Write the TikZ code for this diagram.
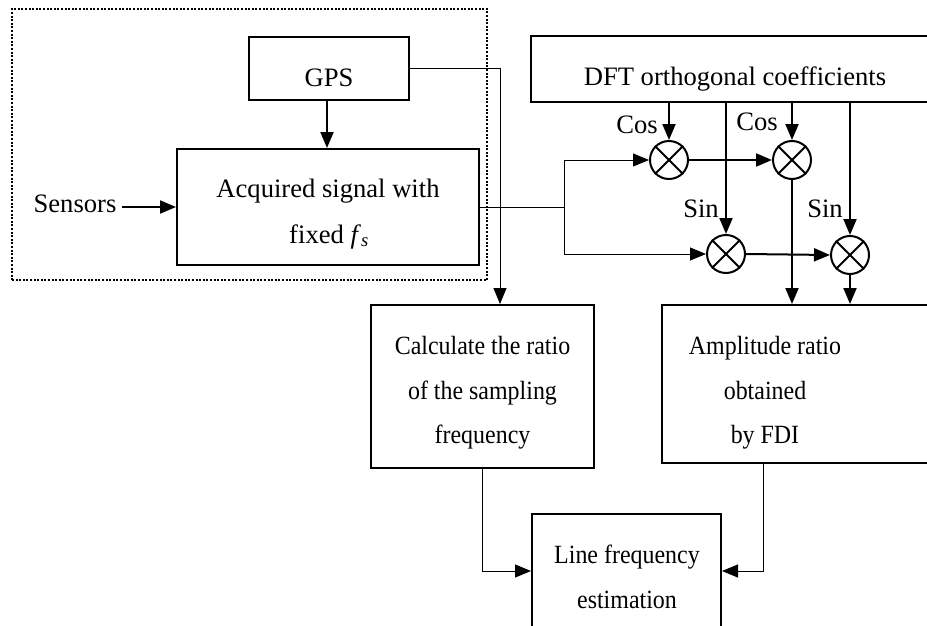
\documentclass[tikz,border=0pt]{standalone}
\usepackage{fontspec}
\setmainfont{Liberation Serif}
\newfontfamily\condfont[FakeStretch=0.91]{Liberation Serif}
\usetikzlibrary{arrows.meta}
\begin{document}
\begin{tikzpicture}[x=1pt,y=-1pt,
  box/.style={draw, line width=2pt, rectangle, inner sep=0pt},
  grpbox/.style={draw, line width=2pt, dash pattern=on 2pt off 1.6pt, rectangle, inner sep=0pt},
  txt/.style={anchor=base, inner sep=0pt, font=\fontsize{26.6}{30}\selectfont},
  ltxt/.style={anchor=base, inner sep=0pt, font=\condfont\fontsize{26.3}{30}\selectfont},
  mult/.style={circle, draw, line width=2pt, minimum size=38pt, inner sep=0pt},
  tip/.style={-{Triangle[length=16pt,width=13pt]}},
  thinc/.style={line width=1pt},
  thkc/.style={line width=2pt}
]
\useasboundingbox (0,0) rectangle (927,626);
\clip (0,0) rectangle (927,626);

% group box
\node[grpbox, minimum width=475pt, minimum height=271pt] (grp) at (249.5,144.5) {};

% boxes
\node[box, minimum width=160pt, minimum height=63pt] (gps) at (329,68.5) {};
\node[box, minimum width=302pt, minimum height=116pt] (acq) at (328,207) {};
\node[box, minimum width=409pt, minimum height=66pt] (dft) at (735.5,69) {};
\node[box, minimum width=223pt, minimum height=163pt] (calc) at (482.5,386.5) {};
\node[box, minimum width=278pt, minimum height=158pt] (amp) at (801,384) {};
\node[box, minimum width=189pt, minimum height=114pt] (line) at (626.5,571) {};

% texts
\node[txt] (tgps) at (329,87) {GPS};
\node[txt] (tacq1) at (328,197) {Acquired signal with};
\node[txt] (tacq2) at (329,243) {fixed \textit{f}\textsubscript{\textit{s}}};
\node[txt] (sens) at (75,212) {Sensors};
\node[txt] (tdft) at (735,85) {DFT orthogonal coefficients};
\node[txt] (cos1) at (637,133) {Cos};
\node[txt] (cos2) at (757,130) {Cos};
\node[txt] (sin1) at (701,217) {Sin};
\node[txt] (sin2) at (825,217) {Sin};
\node[ltxt] (tcalc1) at (482.5,354) {Calculate the ratio};
\node[ltxt] (tcalc2) at (482.5,399) {of the sampling};
\node[ltxt] (tcalc3) at (482.5,443) {frequency};
\node[ltxt] (tamp1) at (765,354) {Amplitude ratio};
\node[ltxt] (tamp2) at (765,399) {obtained};
\node[ltxt] (tamp3) at (765,443) {by FDI};
\node[ltxt] (tline1) at (627,563) {Line frequency};
\node[ltxt] (tline2) at (627,608) {estimation};

% multipliers
\node[mult] (m1) at (669,160) {};
\node[mult] (m2) at (792,160) {};
\node[mult] (m3) at (726,254) {};
\node[mult] (m4) at (850,255) {};
\foreach \m in {m1,m2,m3,m4}{
  \draw[line width=2pt] (\m.north east) -- (\m.south west);
  \draw[line width=2pt] (\m.north west) -- (\m.south east);
}

% connectors
\draw[thkc,tip] ([xshift=-2pt]gps.south) -- ([xshift=-1pt]acq.north);
\coordinate (sensout) at (122,207);
\draw[thkc,tip] (sensout) -- (acq.west);
\draw[thinc,tip] (gps.east) -| ([xshift=17.5pt]calc.north);

\coordinate (split) at (564,207);
\draw[thinc] (acq.east) -- (split);
\draw[thinc,tip] (split) |- (m1.west);
\draw[thinc,tip] (split) |- (m3.west);

\draw[thkc,tip] (m1.north |- dft.south) -- (m1.north);
\draw[thkc,tip] (m2.north |- dft.south) -- (m2.north);
\draw[thkc,tip] (m3.north |- dft.south) -- (m3.north);
\draw[thkc,tip] (m4.north |- dft.south) -- (m4.north);

\draw[thkc,tip] (m1.east) -- (m2.west);
\draw[thkc,tip] (m3.east) -- (m4.west);

\draw[thkc,tip] (m2.south) -- (m2.south |- amp.north);
\draw[thkc,tip] (m4.south) -- (m4.south |- amp.north);

\draw[thinc,tip] (calc.south) |- (line.west);
\draw[thinc,tip] ([xshift=-38pt]amp.south) |- (line.east);
\end{tikzpicture}
\end{document}
